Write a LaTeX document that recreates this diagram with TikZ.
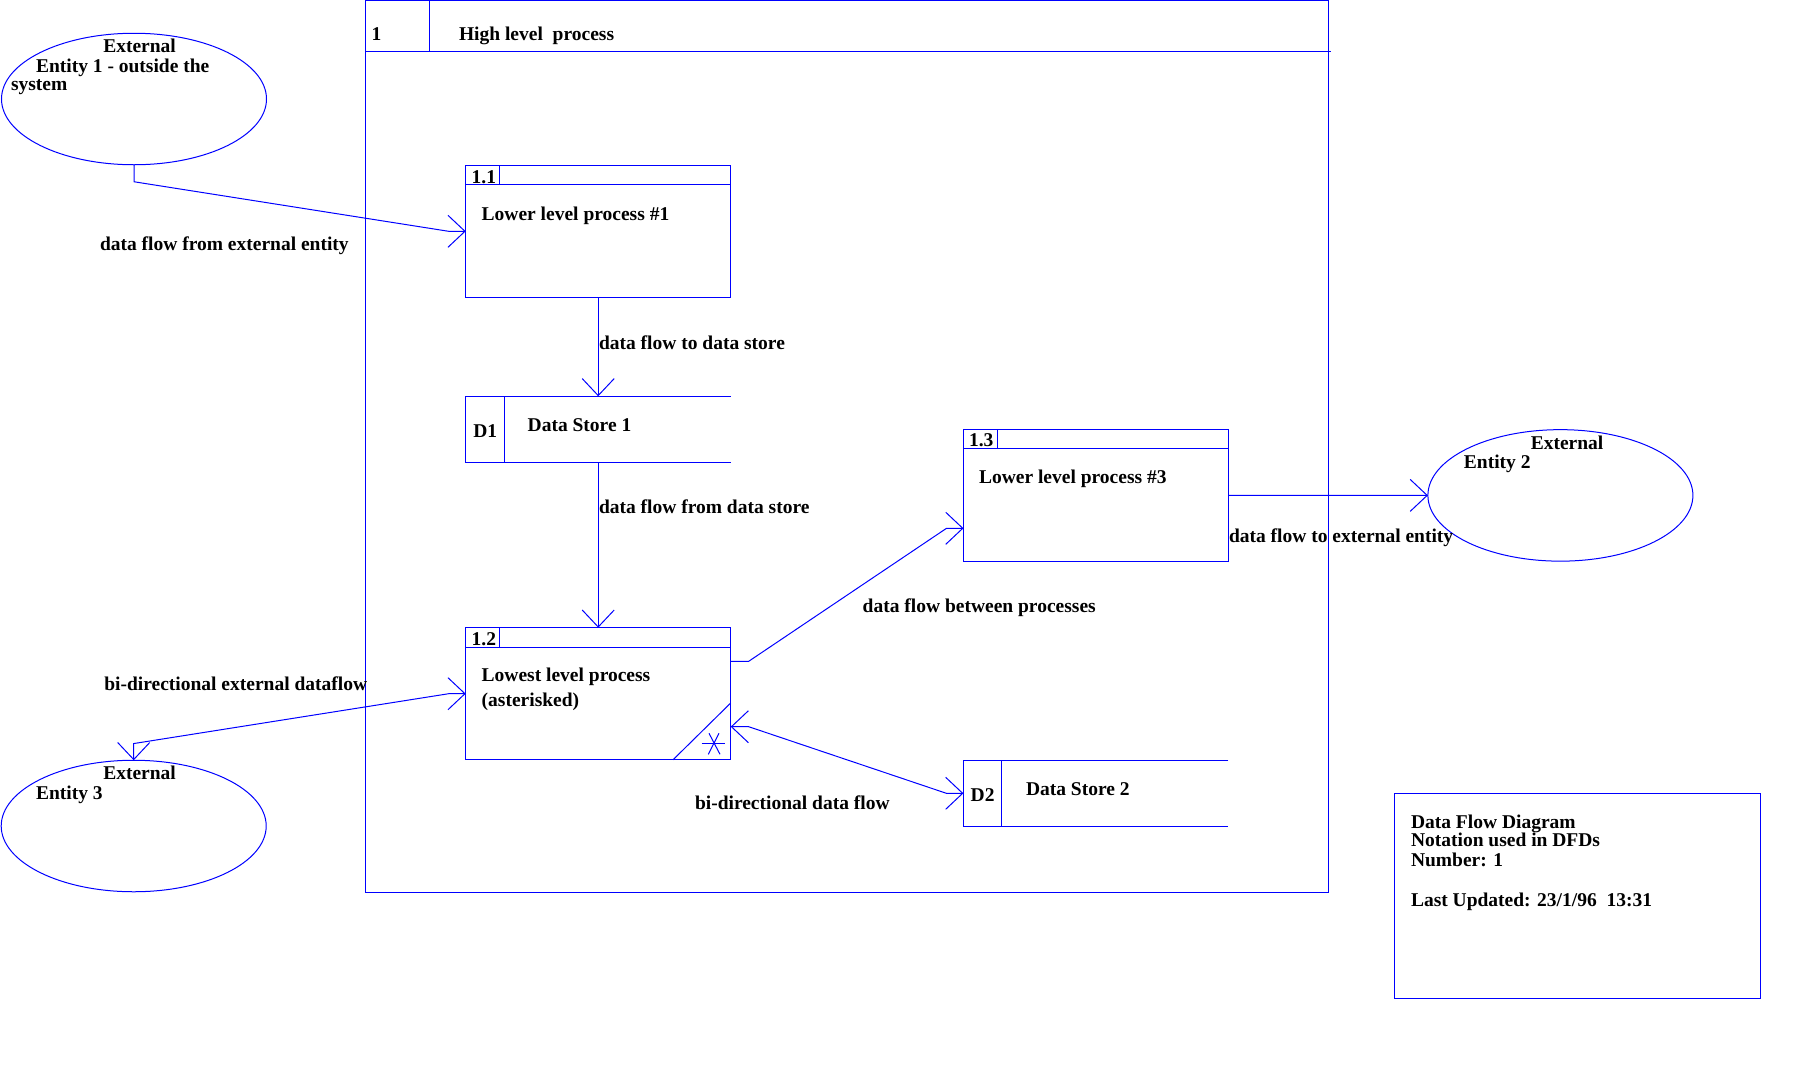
\documentclass[tikz,border=0pt]{standalone}
\usepackage{fontspec}
\setmainfont{Liberation Serif}
\usetikzlibrary{arrows.meta,shapes.geometric}
\definecolor{dfdblue}{RGB}{0,0,255}
\newcommand\dfdfont{\fontsize{19.5}{19.5}\selectfont\bfseries}
\begin{document}
\begin{tikzpicture}[x=1pt,y=-1pt,
  ln/.style={draw=dfdblue,line width=1pt},
  barb/.tip={Straight Barb[length=17pt,width=32pt]},
  arr/.style={ln,-barb},
  biarr/.style={ln,barb-barb},
  boxn/.style={rectangle,anchor=north west,inner sep=0pt,outer sep=0pt},
  proc/.style={boxn,ln,minimum width=265pt,minimum height=132pt},
  store/.style={boxn,minimum width=265pt,minimum height=66pt},
  ent/.style={ellipse,ln,inner sep=0pt,outer sep=0pt,minimum width=265pt,minimum height=131.5pt},
  lbl/.style={anchor=base west,inner sep=0pt,outer sep=0pt,font=\dfdfont}
]
\useasboundingbox (0,0) rectangle (1800,1066);

% outer high level process frame
\node[boxn,ln,minimum width=962.8pt,minimum height=891.5pt] (frame) at (365.6,0.8) {};
\draw[ln] (365.6,51) -- (1331,51);
\draw[ln] (429.5,0.8) -- (429.5,51);
\node[lbl] (fnum) at (371.5,40) {1};
\node[lbl] (ftitle) at (459,40) {High level\ \ process};

% process 1.1
\node[proc] (b11) at (465.7,165.3) {};
\draw[ln] ([yshift=-18.7pt]b11.north west) -- ([yshift=-18.7pt]b11.north east);
\draw[ln] ([xshift=33.6pt]b11.north west) -- ([xshift=33.6pt,yshift=-18.7pt]b11.north west);
\node[lbl] (b11n) at (471.7,183.7) {1.1};
\node[lbl] (b11t) at (481.7,220) {Lower level process \#1};

% data store D1
\node[store] (d1) at (465.7,396.3) {};
\draw[ln] (d1.north east) -- (d1.north west) -- (d1.south west) -- (d1.south east);
\draw[ln] ([xshift=38.6pt]d1.north west) -- ([xshift=38.6pt]d1.south west);
\node[lbl] (d1n) at (473.3,437.3) {D1};
\node[lbl] (d1t) at (527.7,431.7) {Data Store 1};

% process 1.2
\node[proc] (b12) at (465.7,627.7) {};
\draw[ln] ([yshift=-19.6pt]b12.north west) -- ([yshift=-19.6pt]b12.north east);
\draw[ln] ([xshift=33.6pt]b12.north west) -- ([xshift=33.6pt,yshift=-19.6pt]b12.north west);
\draw[ln] ([xshift=-57.6pt]b12.south east) -- ([yshift=56.7pt]b12.south east);
\draw[ln] (701.7,743.3) -- (725,743.3);
\draw[ln] (709,733.3) -- (720,754.3);
\draw[ln] (719,733.3) -- (708.3,754.3);
\node[lbl] (b12n) at (471.7,645.7) {1.2};
\node[lbl] (b12t) at (481.7,681.7) {Lowest level process};
\node[lbl] (b12t2) at (481.7,706) {(asterisked)};

% process 1.3
\node[proc] (b13) at (963.5,429.3) {};
\draw[ln] ([yshift=-19pt]b13.north west) -- ([yshift=-19pt]b13.north east);
\draw[ln] ([xshift=33.5pt]b13.north west) -- ([xshift=33.5pt,yshift=-19pt]b13.north west);
\node[lbl] (b13n) at (969,446.7) {1.3};
\node[lbl] (b13t) at (979,483.3) {Lower level process \#3};

% data store D2
\node[store] (d2) at (963.4,760.3) {};
\draw[ln] (d2.north east) -- (d2.north west) -- (d2.south west) -- (d2.south east);
\draw[ln] ([xshift=37.9pt]d2.north west) -- ([xshift=37.9pt]d2.south west);
\node[lbl] (d2n) at (970.7,801.7) {D2};
\node[lbl] (d2t) at (1026,795) {Data Store 2};

% external entities
\node[ent] (e1) at (134,99) {};
\node[lbl] (e1a) at (103.3,52.3) {External};
\node[lbl] (e1b) at (36,72.3) {Entity 1 - outside the};
\node[lbl] (e1c) at (11,90.7) {system};

\node[ent] (e2) at (1560.4,495.4) {};
\node[lbl] (e2a) at (1530.8,449.3) {External};
\node[lbl] (e2b) at (1463.9,468.3) {Entity 2};

\node[ent] (e3) at (133.7,826) {};
\node[lbl] (e3a) at (103.3,779) {External};
\node[lbl] (e3b) at (36,799.3) {Entity 3};

% connection points
\coordinate (b12r1) at ([yshift=32.4pt]b12.east);
\coordinate (b12r2) at ([yshift=-33pt]b12.east);
\coordinate (b13l) at ([yshift=-33pt]b13.west);

% data flows
\draw[arr] (e1.south) -- ++(0,17) -- ([xshift=-17pt]b11.west) -- (b11.west);
\draw[arr] (b11.south) -- (d1.north);
\draw[arr] (d1.south) -- (b12.north);
\draw[arr] (b12r1) -- ++(18,0) -- ([xshift=-17pt]b13l) -- (b13l);
\draw[biarr] (b12r2) -- ++(18,0) -- ([xshift=-17pt]d2.west) -- (d2.west);
\draw[arr] (b13.east) -- (e2.west);
\draw[biarr] (e3.north) -- ++(0,-16.7) -- ([xshift=-17pt]b12.west) -- (b12.west);

% flow labels
\node[lbl] (l1) at (100,250) {data flow from external entity};
\node[lbl] (l2) at (599,349) {data flow to data store};
\node[lbl] (l3) at (599,513) {data flow from data store};
\node[lbl] (l4) at (862.7,612) {data flow between processes};
\node[lbl] (l5) at (1229,542.7) {data flow to external entity};
\node[lbl] (l6) at (104.3,690.7) {bi-directional external dataflow};
\node[lbl] (l7) at (695,809.3) {bi-directional data flow};

% title block
\node[boxn,ln,minimum width=366pt,minimum height=205pt] (tb) at (1394.3,793.3) {};
\node[lbl] (t1) at (1411,828.3) {Data Flow Diagram};
\node[lbl] (t2) at (1411,846.7) {Notation used in DFDs};
\node[lbl] (t3) at (1411,866.7) {Number: 1};
\node[lbl] (t4) at (1411,906) {Last Updated: 23/1/96\ \ 13:31};
\end{tikzpicture}
\end{document}
